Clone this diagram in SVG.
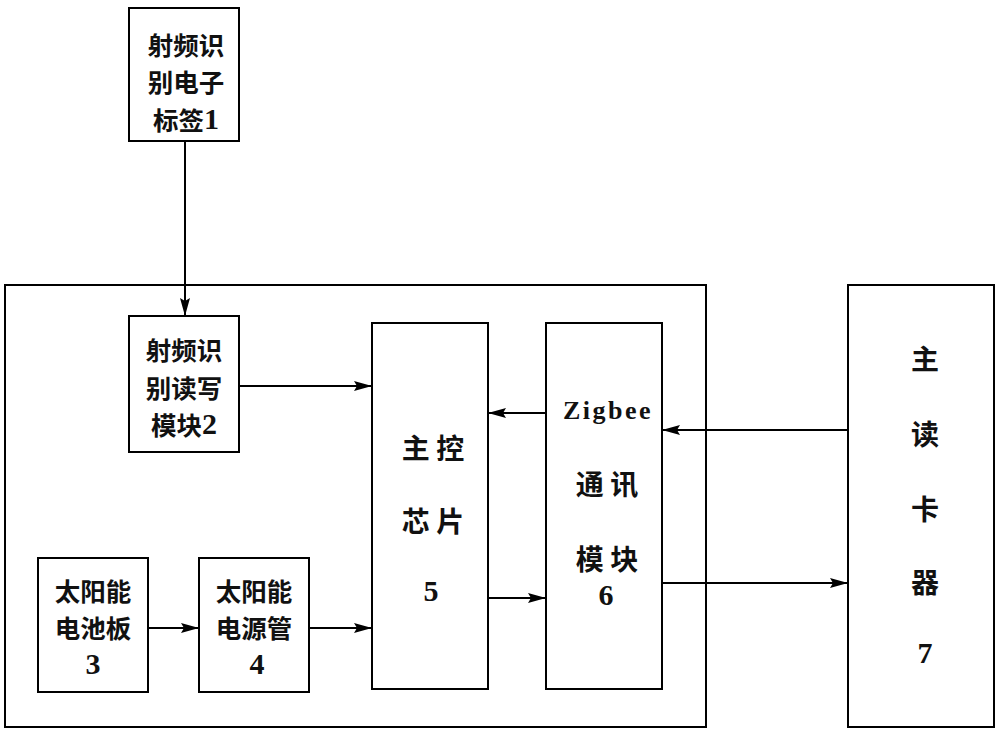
<svg xmlns="http://www.w3.org/2000/svg" width="1000" height="734" viewBox="0 0 1000 734">
<defs>
<marker id="ah" markerWidth="18" markerHeight="10" refX="18" refY="5" orient="auto" markerUnits="userSpaceOnUse">
<path d="M0,0 L18,5 L0,10 L3,5 Z" fill="#000"/>
</marker>
</defs>
<style>
.box{fill:#fff;stroke:#000;stroke-width:2}
.frame{fill:none;stroke:#000;stroke-width:2}
.t{font-family:"Noto Sans CJK SC","Liberation Serif",sans-serif;font-size:28px;font-weight:bold;fill:#111;text-anchor:middle;dominant-baseline:central}
.s{font-size:25.5px}
.d{font-family:"Liberation Serif",serif;font-size:30px;font-weight:bold}
.n{font-family:"Liberation Serif",serif;font-size:30px;font-weight:bold;fill:#111;text-anchor:middle;dominant-baseline:central}
.m{font-family:"Liberation Serif",serif;font-size:26px;font-weight:bold;letter-spacing:2.5px;fill:#111;text-anchor:middle;dominant-baseline:central}
.c{stroke:#000;stroke-width:2;fill:none;marker-end:url(#ah)}
</style>
<rect x="0" y="0" width="1000" height="734" fill="#fff"/>
<rect id="frame" class="frame" x="5" y="285" width="701" height="442"/>
<g id="n1">
<rect class="box" x="129" y="8" width="110" height="133"/>
<text class="t s"><tspan x="186" y="43">射频识</tspan><tspan x="186" y="80">别电子</tspan><tspan x="186" y="118">标签<tspan class="d">1</tspan></tspan></text>
</g>
<g id="n2">
<rect class="box" x="129" y="316" width="110" height="136"/>
<text class="t s"><tspan x="184" y="348">射频识</tspan><tspan x="184" y="386">别读写</tspan><tspan x="184" y="423">模块<tspan class="d">2</tspan></tspan></text>
</g>
<g id="n3">
<rect class="box" x="38" y="558" width="110" height="134"/>
<text class="t s"><tspan x="93" y="589">太阳能</tspan><tspan x="93" y="626">电池板</tspan><tspan x="93" y="663" class="d">3</tspan></text>
</g>
<g id="n4">
<rect class="box" x="199" y="558" width="110" height="134"/>
<text class="t s"><tspan x="254" y="589">太阳能</tspan><tspan x="254" y="626">电源管</tspan><tspan x="257" y="663" class="d">4</tspan></text>
</g>
<g id="n5">
<rect class="box" x="372" y="323" width="116" height="366"/>
<text class="t" x="433" y="447">主 控</text>
<text class="t" x="433" y="520">芯 片</text>
<text class="n" x="431" y="590">5</text>
</g>
<g id="n6">
<rect class="box" x="546" y="323" width="116" height="366"/>
<text class="m" x="608" y="410">Zigbee</text>
<text class="t" x="607" y="483">通 讯</text>
<text class="t" x="607" y="558">模 块</text>
<text class="n" x="606" y="594">6</text>
</g>
<g id="n7">
<rect class="box" x="848" y="285" width="146" height="442"/>
<text class="t" x="925" y="358">主</text>
<text class="t" x="925" y="433">读</text>
<text class="t" x="925" y="508">卡</text>
<text class="t" x="925" y="581">器</text>
<text class="n" x="925" y="652">7</text>
</g>
<g id="connectors">
<line class="c" x1="185" y1="141" x2="185" y2="316"/>
<line class="c" x1="239" y1="386" x2="372" y2="386"/>
<line class="c" x1="148" y1="628" x2="199" y2="628"/>
<line class="c" x1="309" y1="628" x2="372" y2="628"/>
<line class="c" x1="546" y1="413" x2="488" y2="413"/>
<line class="c" x1="488" y1="598" x2="546" y2="598"/>
<line class="c" x1="848" y1="430" x2="662" y2="430"/>
<line class="c" x1="662" y1="583" x2="848" y2="583"/>
</g>
</svg>
